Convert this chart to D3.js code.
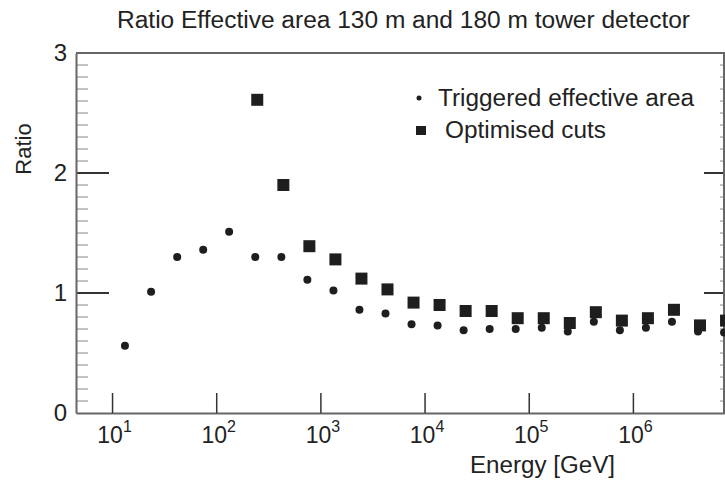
<!DOCTYPE html>
<html>
<head>
<meta charset="utf-8">
<script src="https://cdn.jsdelivr.net/npm/d3@7"></script>
<style>
  body { margin: 0; background: #fff; }
  text { font-family: "Liberation Sans", Arial, sans-serif; fill: #222; }
</style>
</head>
<body>
<div id="chart"></div>
<script>
// Energy bin centres [GeV]
var energies = [13.3, 23.7, 42.2, 75.0, 133, 237, 422, 750, 1334, 2371, 4217, 7499,
  13335, 23714, 42170, 74989, 133352, 237137, 421697, 749894, 1333521, 2371374, 4216965, 7498942];

// Triggered effective area ratio (all bins)
var triggered = [0.56, 1.01, 1.30, 1.36, 1.51, 1.30, 1.30, 1.11, 1.02, 0.86, 0.83, 0.74,
  0.73, 0.69, 0.70, 0.70, 0.71, 0.68, 0.76, 0.69, 0.71, 0.76, 0.68, 0.67];

// Optimised cuts ratio (starts at the 6th bin)
var optimisedEnergies = energies.slice(5);
var optimised = [2.61, 1.90, 1.39, 1.28, 1.12, 1.03, 0.92, 0.90, 0.85, 0.85, 0.79, 0.79,
  0.75, 0.84, 0.77, 0.79, 0.86, 0.73, 0.77];

var xTickValues = [1e1, 1e2, 1e3, 1e4, 1e5, 1e6];
var xTickExponents = ["1", "2", "3", "4", "5", "6"];
var yTickValues = [0, 1, 2, 3];
var legendLabels = ["Triggered effective area", "Optimised cuts"];

var w = 725;
var h = 483;
// plot frame (don't use "top", it clashes with window.top)
var padLeft = 76, padRight = 724, padTop = 53, padBottom = 413;
var axisColor = "#666";

var svg = d3.select("#chart")
  .append("svg")
  .attr("width", w)
  .attr("height", h);

// scales
var xScale = d3.scaleLog()
  .domain([4.508, 7.83e6])
  .range([padLeft, w + 1]);
var yScale = d3.scaleLinear()
  .domain([0, 3])
  .range([padBottom, padTop]);

// minor y ticks every 0.1
var minorY = d3.range(1, 30).filter(function (d) { return d % 10 != 0; })
  .map(function (d) { return d / 10; });

// frame: top line
svg.append("line")
  .attr("x1", padLeft).attr("x2", w)
  .attr("y1", padTop).attr("y2", padTop)
  .attr("stroke", axisColor).attr("stroke-width", 2);

// helper to draw y tick marks from the scale
function yTicks(values, x0, len, color, width) {
  svg.append("g")
    .selectAll("line")
    .data(values)
    .enter()
    .append("line")
    .attr("x1", x0)
    .attr("x2", x0 + len)
    .attr("y1", function (d) { return yScale(d); })
    .attr("y2", function (d) { return yScale(d); })
    .attr("stroke", color)
    .attr("stroke-width", width);
}

// left ticks
yTicks(minorY, padLeft, 12, "#888", 1);
yTicks([1, 2], padLeft, 33, "#333", 2);
// right ticks
yTicks(minorY, padRight, -4, "#888", 1);
yTicks([1, 2], padRight, -20, "#333", 2);

// left axis (line + labels)
svg.append("g")
  .attr("class", "y axis")
  .attr("transform", "translate(" + padLeft + ",0)")
  .call(d3.axisLeft(yScale).tickValues(yTickValues).tickSize(0).tickPadding(9).tickFormat(d3.format("d")))
  .call(function (g) {
    g.select(".domain").attr("stroke", axisColor).attr("stroke-width", 2);
    g.selectAll("text").style("font-size", "24px").attr("fill", "#222");
  });

// right axis line
svg.append("line")
  .attr("x1", padRight).attr("x2", padRight)
  .attr("y1", padTop).attr("y2", padBottom)
  .attr("stroke", axisColor).attr("stroke-width", 2);

// bottom axis
var xAxisG = svg.append("g")
  .attr("class", "x axis")
  .attr("transform", "translate(0," + padBottom + ")")
  .call(d3.axisBottom(xScale).tickValues(xTickValues).tickSize(-20).tickSizeOuter(0).tickFormat(""))
  .call(function (g) {
    g.select(".domain").attr("stroke", axisColor).attr("stroke-width", 2);
    g.selectAll("line").attr("stroke", "#333").attr("stroke-width", 1.5);
  });

// tick labels as 10^n
xAxisG.selectAll(".tick").each(function (d, i) {
  var t = d3.select(this).select("text")
    .attr("y", 30)
    .attr("dy", 0)
    .attr("x", 2)
    .attr("text-anchor", "middle")
    .style("font-size", "23px");
  t.text("");
  t.append("tspan").text("10");
  t.append("tspan")
    .attr("dy", -11)
    .style("font-size", "16px")
    .text(xTickExponents[i]);
});

// axis titles
svg.append("text")
  .attr("x", 470)
  .attr("y", 473)
  .attr("textLength", 145)
  .attr("lengthAdjust", "spacingAndGlyphs")
  .style("font-size", "23px")
  .text("Energy [GeV]");

svg.append("text")
  .attr("transform", "translate(31,149) rotate(-90)")
  .attr("text-anchor", "middle")
  .style("font-size", "22px")
  .text("Ratio");

// title
svg.append("text")
  .attr("x", 117)
  .attr("y", 28)
  .attr("textLength", 573)
  .attr("lengthAdjust", "spacingAndGlyphs")
  .style("font-size", "23px")
  .text("Ratio Effective area 130 m and 180 m tower detector");

// points
svg.selectAll("circle.trig")
  .data(energies)
  .enter()
  .append("circle")
  .attr("class", "trig")
  .attr("cx", function (d) { return xScale(d); })
  .attr("cy", function (d, i) { return yScale(triggered[i]); })
  .attr("r", 4)
  .attr("fill", "#1e1e1e");

svg.selectAll("rect.opt")
  .data(optimisedEnergies)
  .enter()
  .append("rect")
  .attr("class", "opt")
  .attr("x", function (d) { return xScale(d) - 6 + 2; })
  .attr("y", function (d, i) { return yScale(optimised[i]) - 6; })
  .attr("width", 12)
  .attr("height", 12)
  .attr("fill", "#1e1e1e");

// legend
var legend = svg.append("g");
legend.append("circle")
  .attr("cx", 419).attr("cy", 98).attr("r", 2.5)
  .attr("fill", "#1e1e1e");
legend.append("rect")
  .attr("x", 416).attr("y", 126).attr("width", 10).attr("height", 9)
  .attr("fill", "#1e1e1e");
legend.append("text")
  .attr("x", 438).attr("y", 106)
  .attr("textLength", 256)
  .attr("lengthAdjust", "spacingAndGlyphs")
  .style("font-size", "23px")
  .text(legendLabels[0]);
legend.append("text")
  .attr("x", 445).attr("y", 138)
  .attr("textLength", 161)
  .attr("lengthAdjust", "spacingAndGlyphs")
  .style("font-size", "23px")
  .text(legendLabels[1]);
</script>
</body>
</html>
